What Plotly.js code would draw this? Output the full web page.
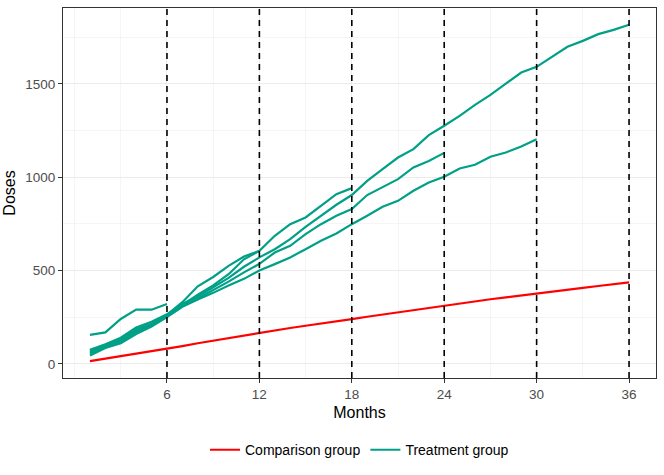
<!DOCTYPE html>
<html><head><meta charset="utf-8">
<script src="https://cdn.plot.ly/plotly-3.0.1.min.js"></script>
<style>html,body{margin:0;padding:0;background:#fff}</style>
</head><body><div id="chart" style="width:664px;height:475px"></div>
<script>
// Months (x) for the comparison group
const months = Array.from({length: 36}, (_, i) => i + 1);
const comparison = [14, 27, 40, 53, 66, 80, 95, 110, 124, 139, 153, 168, 180, 192, 204, 215, 227, 239,
  252, 264, 277, 289, 302, 314, 325, 335, 346, 356, 367, 377, 387, 397, 407, 417, 426, 436];

// Treatment cohorts (values for months 1..N)
const treat6  = [155, 168, 240, 290, 290, 320];
const treat12 = [70, 100, 130, 185, 215, 262, 330, 415, 465, 525, 575, 605];
const treat18 = [55, 95, 125, 175, 210, 258, 315, 370, 420, 480, 560, 605, 686, 748, 784, 846, 909, 941];
const treat24 = [62, 90, 120, 170, 205, 255, 310, 350, 395, 440, 490, 535, 596, 632, 695, 748, 793, 829,
  904, 948, 989, 1052, 1087, 1130];
const treat30 = [45, 85, 110, 160, 200, 250, 305, 345, 380, 420, 455, 500, 534, 570, 614, 659, 698, 748,
  793, 841, 873, 927, 971, 1002, 1046, 1066, 1109, 1132, 1164, 1203];
const treat36 = [75, 105, 140, 195, 225, 265, 320, 360, 410, 460, 520, 570, 614, 668, 734, 793, 852, 904,
  980, 1043, 1105, 1150, 1225, 1275, 1328, 1387, 1441, 1501, 1560, 1591, 1644, 1698, 1730, 1766, 1789, 1816];

const vlineMonths = [6, 12, 18, 24, 30, 36];
const xTickVals = [6, 12, 18, 24, 30, 36];
const xMinorVals = [0, 3, 9, 15, 21, 27, 33];
const yTickVals = [0, 500, 1000, 1500];
const yMinorVals = [250, 750, 1250, 1750];

const RED = '#FF0000';
const TEAL = '#00A087';
const FONT = 'Liberation Sans, Arial, sans-serif';

const traces = [];
traces.push({
  x: months, y: comparison, type: 'scatter', mode: 'lines',
  name: 'Comparison group', line: {color: RED, width: 2.2}, legendgroup: 'comp'
});
const cohorts = [treat6, treat12, treat18, treat24, treat30, treat36];
cohorts.forEach((arr, i) => {
  traces.push({
    x: months.slice(0, arr.length), y: arr, type: 'scatter', mode: 'lines',
    name: 'Treatment group', line: {color: TEAL, width: 2.2},
    legendgroup: 'treat', showlegend: i === 0
  });
});

const shapes = vlineMonths.map(m => ({
  type: 'line', xref: 'x', yref: 'paper', x0: m, x1: m, y0: 0, y1: 1,
  line: {color: '#000000', width: 1.6, dash: '6px,5px'}, layer: 'above'
}));

const layout = {
  width: 664, height: 475,
  margin: {l: 63, r: 8, t: 8, b: 97},
  paper_bgcolor: '#ffffff', plot_bgcolor: '#ffffff',
  font: {family: FONT, color: '#000000'},
  showlegend: true,
  legend: {orientation: 'h', x: 0.5, xanchor: 'center', y: -0.195, yanchor: 'middle',
    font: {family: FONT, size: 14, color: '#000000'}, traceorder: 'normal'},
  xaxis: {
    range: [-0.75, 37.75], tickmode: 'array', tickvals: xTickVals,
    ticks: 'outside', ticklen: 4, tickcolor: '#333333', tickwidth: 1,
    tickfont: {family: FONT, size: 13.5, color: '#4D4D4D'},
    showgrid: true, gridcolor: '#EBEBEB', gridwidth: 1,
    minor: {tickmode: 'array', tickvals: xMinorVals, showgrid: true, gridcolor: '#EFEFEF', gridwidth: 0.6, ticks: ''},
    zeroline: false, showline: true, mirror: true, linecolor: '#333333', linewidth: 1,
    title: {text: 'Months', font: {family: FONT, size: 16, color: '#000000'}, standoff: 5}
  },
  yaxis: {
    range: [-76, 1906], tickmode: 'array', tickvals: yTickVals,
    ticks: 'outside', ticklen: 4, tickcolor: '#333333', tickwidth: 1,
    tickfont: {family: FONT, size: 13.5, color: '#4D4D4D'},
    showgrid: true, gridcolor: '#EBEBEB', gridwidth: 1,
    minor: {tickmode: 'array', tickvals: yMinorVals, showgrid: true, gridcolor: '#EFEFEF', gridwidth: 0.6, ticks: ''},
    zeroline: false, showline: true, mirror: true, linecolor: '#333333', linewidth: 1,
    title: {text: 'Doses', font: {family: FONT, size: 16, color: '#000000'}, standoff: 5}
  },
  shapes: shapes
};

Plotly.newPlot('chart', traces, layout, {displayModeBar: false, staticPlot: true});
</script>
</body></html>
